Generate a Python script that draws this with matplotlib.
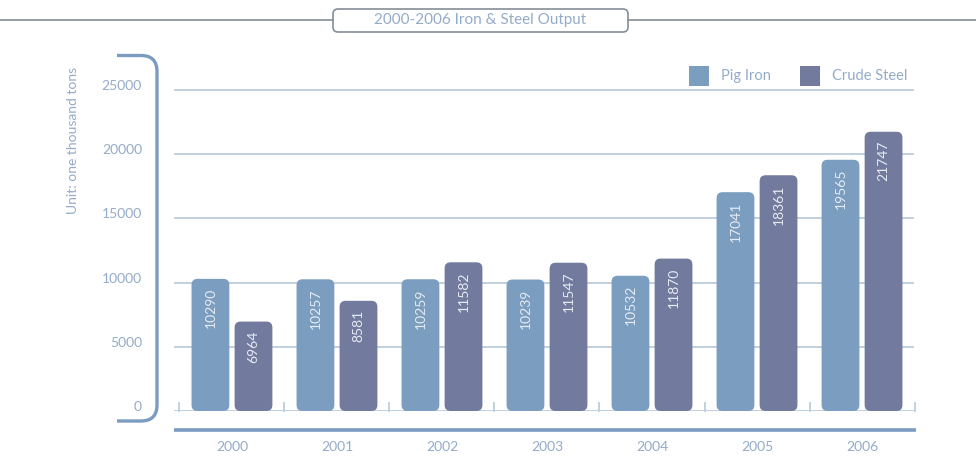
import numpy as np
import matplotlib as mpl
mpl.use("Agg")
import matplotlib.pyplot as plt
from matplotlib.patches import FancyBboxPatch, PathPatch
from matplotlib.path import Path
from matplotlib.lines import Line2D

plt.rcParams['font.family'] = ['Lato', 'DejaVu Sans']

years = ['2000', '2001', '2002', '2003', '2004', '2005', '2006']
pig_iron = [10290, 10257, 10259, 10239, 10532, 17041, 19565]
crude_steel = [6964, 8581, 11582, 11547, 11870, 18361, 21747]
series_names = ['Pig Iron', 'Crude Steel']
y_ticks = [0, 5000, 10000, 15000, 20000, 25000]

c_pig = '#7a9dc0'
c_steel = '#727b9e'
c_text = '#94abc8'
c_grid = '#bccddd'
c_axis = '#7b9cc0'
c_title_box = '#868d96'

W, H = 976, 470
fig = plt.figure(figsize=(W / 100, H / 100), dpi=100)
ax_l, ax_r = 174, 914
y0_px, ytop_px = 411, 64.3
ax = fig.add_axes([ax_l / W, (H - y0_px) / H, (ax_r - ax_l) / W, (y0_px - ytop_px) / H])

x = np.arange(len(years))
ax.set_xlim(-0.552, 6.495)
ax.set_ylim(0, 27000)
for s in ax.spines.values():
    s.set_visible(False)
ax.set_xticks([])
ax.set_yticks([])

# gridlines
for t in y_ticks:
    ax.axhline(t, color=c_grid, lw=1.3, zorder=0)
    ax.annotate(str(t), xy=(0, t), xycoords=('axes fraction', 'data'),
                xytext=(-32, 4), textcoords='offset pixels',
                ha='right', va='center', fontsize=10, color=c_text)

# small ticks between categories
for xt in np.arange(-0.5, len(years), 1.0):
    ax.plot([xt, xt], [0, 8 * 5000 / 64.2], color=c_grid, lw=1.3, zorder=1, clip_on=False)

# rounded bars
w = 0.36
off = 0.205
px_x = (ax_r - ax_l) / (6.495 + 0.552)
px_y = (y0_px - ytop_px) / 27000
r_x = 6 / px_x
aspect = (6 / px_y) / r_x
for vals, c, sgn in [(pig_iron, c_pig, -1), (crude_steel, c_steel, 1)]:
    for xi, v in zip(x, vals):
        left = xi + sgn * off - w / 2
        p = FancyBboxPatch((left + r_x, r_x * aspect), w - 2 * r_x, v - 2 * r_x * aspect,
                           boxstyle='round,pad=%f,rounding_size=%f' % (r_x, r_x),
                           mutation_aspect=aspect, fc=c, ec='none', zorder=2)
        ax.add_patch(p)
        ax.annotate(str(v), xy=(xi + sgn * off, v), xytext=(0, -9), textcoords='offset pixels',
                    rotation=90, ha='center', va='top', fontsize=10, color='#e6ebf2',
                    zorder=3)

# thick line under axis and year labels
ax.plot([-0.552, 6.515], [-0.0548, -0.0548], transform=ax.get_xaxis_transform(),
        color=c_axis, lw=2.6, clip_on=False, solid_capstyle='butt')
for xi, yr in zip(x, years):
    ax.text(xi, -0.104, yr, transform=ax.get_xaxis_transform(), ha='center', va='center',
            fontsize=10, color=c_text)

# legend
def fx(px):
    return px / W

def fy(py):
    return 1 - py / H

for (name, c, sx) in [(series_names[0], c_pig, 689), (series_names[1], c_steel, 800)]:
    fig.patches.append(mpl.patches.Rectangle((fx(sx), fy(86)), fx(20), 20 / H, fc=c, ec='none',
                                             transform=fig.transFigure))
    fig.text(fx(sx + 32), fy(76), name, ha='left', va='center', fontsize=10.5, color=c_text)

# left bracket
r = 16
xv = 157
verts = [(117, 55.5), (xv - r, 55.5), (xv, 55.5), (xv, 55.5 + r), (xv, 421 - r), (xv, 421),
         (xv - r, 421), (117, 421)]
codes = [Path.MOVETO, Path.LINETO, Path.CURVE3, Path.CURVE3, Path.LINETO, Path.CURVE3,
         Path.CURVE3, Path.LINETO]
verts = [(fx(a), fy(b)) for a, b in verts]
fig.patches.append(PathPatch(Path(verts, codes), fc='none', ec=c_axis, lw=2.4,
                             transform=fig.transFigure))

fig.text(fx(73), fy(140), 'Unit: one thousand tons', rotation=90, ha='center', va='center',
         fontsize=10, color=c_text)

# title box
fig.add_artist(Line2D([0, fx(333)], [fy(19.5), fy(19.5)], color=c_title_box, lw=1.2))
fig.add_artist(Line2D([fx(628), 1], [fy(19.5), fy(19.5)], color=c_title_box, lw=1.2))
tb = FancyBboxPatch((fx(333 + 5), fy(32 - 5)), fx(295 - 10), (23 - 10) / H,
                    boxstyle='round,pad=%f,rounding_size=%f' % (fx(5), fx(5)),
                    mutation_aspect=W / H, fc='white', ec=c_title_box, lw=1.2,
                    transform=fig.transFigure)
fig.patches.append(tb)
fig.text(fx(480), fy(20), '2000-2006 Iron & Steel Output', ha='center', va='center',
         fontsize=11, color=c_text)

fig.savefig('out.png', dpi=100)
